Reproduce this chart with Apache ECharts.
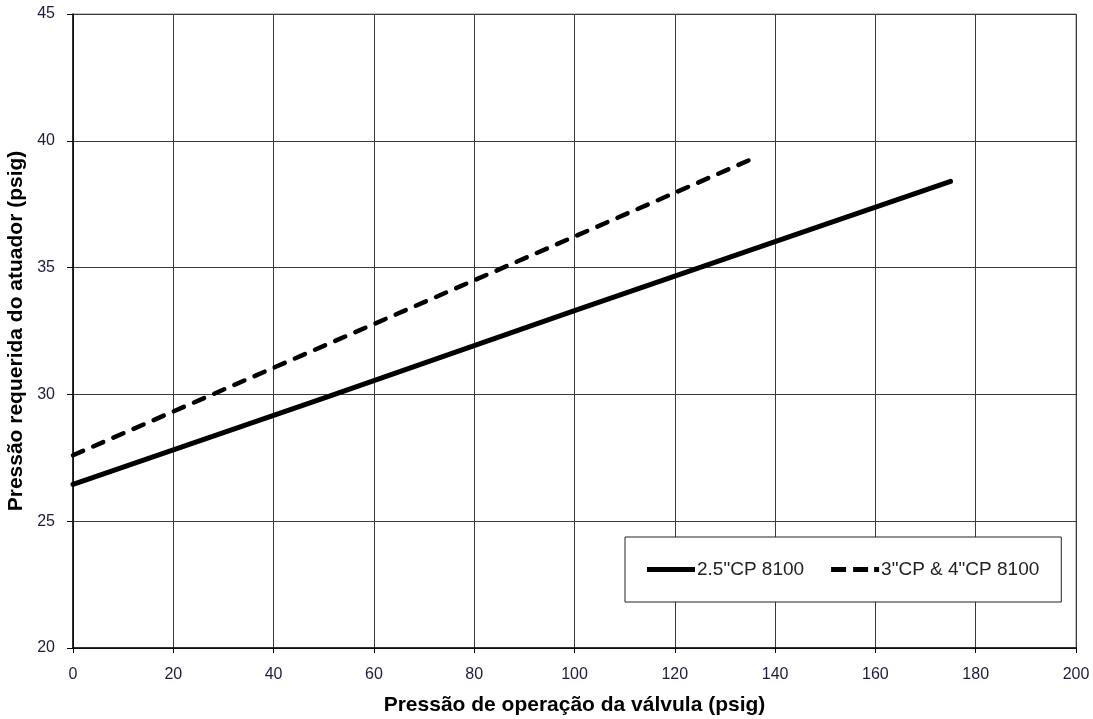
<!DOCTYPE html>
<html><head><meta charset="utf-8">
<script src="https://cdn.jsdelivr.net/npm/echarts@6/dist/echarts.min.js"></script>
<style>html,body{margin:0;padding:0;background:#fff}#c{width:1093px;height:719px}</style>
</head><body><div id="c"></div>
<script>
var xTicks = [0, 20, 40, 60, 80, 100, 120, 140, 160, 180, 200];
var yTicks = [20, 25, 30, 35, 40, 45];
var seriesNames = ['2.5"CP 8100', '3"CP & 4"CP 8100'];
var solidX = [0, 50, 100, 150, 175];
var solidY = [26.45, 29.85, 33.3, 36.7, 38.4];
var dashedX = [0, 40, 80, 120, 135];
var dashedY = [27.6, 31.05, 34.5, 37.95, 39.25];

function pairs(xs, ys){ return xs.map(function(x,i){ return [x, ys[i]]; }); }
var font = 'Liberation Sans, Arial, sans-serif';
var chart = echarts.init(document.getElementById('c'), null, {renderer:'canvas'});
chart.setOption({
  animation:false,
  backgroundColor:'#fff',
  grid:{left:73,right:17,top:14,bottom:71,show:true,borderColor:'#888',borderWidth:1,
    containLabel:false,outerBoundsMode:'none'},
  xAxis:{type:'value',min:xTicks[0],max:xTicks[xTicks.length-1],interval:20,
    name:'Pressão de operação da válvula (psig)',nameLocation:'middle',nameGap:47,
    nameTextStyle:{fontFamily:font,fontSize:21,fontWeight:'bold',color:'#000'},
    axisLine:{show:true,lineStyle:{color:'#000',width:1.5}},
    axisTick:{show:true,length:5,inside:false,lineStyle:{color:'#000'}},
    axisLabel:{margin:19,fontFamily:font,fontSize:16,color:'#1c1c3c'},
    splitLine:{show:true,lineStyle:{color:'#3a3a3a',width:1}}},
  yAxis:{type:'value',min:yTicks[0],max:yTicks[yTicks.length-1],interval:5,
    name:'Pressão requerida do atuador (psig)',nameLocation:'middle',nameGap:44,
    nameTextStyle:{fontFamily:font,fontSize:21,fontWeight:'bold',color:'#000'},
    axisLine:{show:true,lineStyle:{color:'#000',width:1.5}},
    axisTick:{show:true,length:6,inside:false,lineStyle:{color:'#000'}},
    axisLabel:{margin:18,fontFamily:font,fontSize:16,color:'#1c1c3c'},
    splitLine:{show:true,lineStyle:{color:'#3a3a3a',width:1}}},
  legend:{left:625,top:537,orient:'horizontal',
    backgroundColor:'#fff',borderColor:'#222',borderWidth:1,padding:[23,22,23,22],
    itemWidth:48,itemHeight:5,itemGap:27,
    textStyle:{fontFamily:font,fontSize:19,color:'#222',padding:[0,0,0,-3]},
    data:[
      {name:seriesNames[0],icon:'path://M0,0h48v5h-48z'},
      {name:seriesNames[1],icon:'path://M0,0h15v5h-15zM22,0h15v5h-15zM43,0h5v5h-5z'}
    ]},
  series:[
    {name:seriesNames[0],type:'line',data:pairs(solidX,solidY),symbol:'none',
      lineStyle:{color:'#000',width:5,cap:'round'},itemStyle:{color:'#000'}},
    {name:seriesNames[1],type:'line',data:pairs(dashedX,dashedY),symbol:'none',
      lineStyle:{color:'#000',width:4.5,type:[11,11],cap:'round'},itemStyle:{color:'#000'}}
  ]
});
</script></body></html>
